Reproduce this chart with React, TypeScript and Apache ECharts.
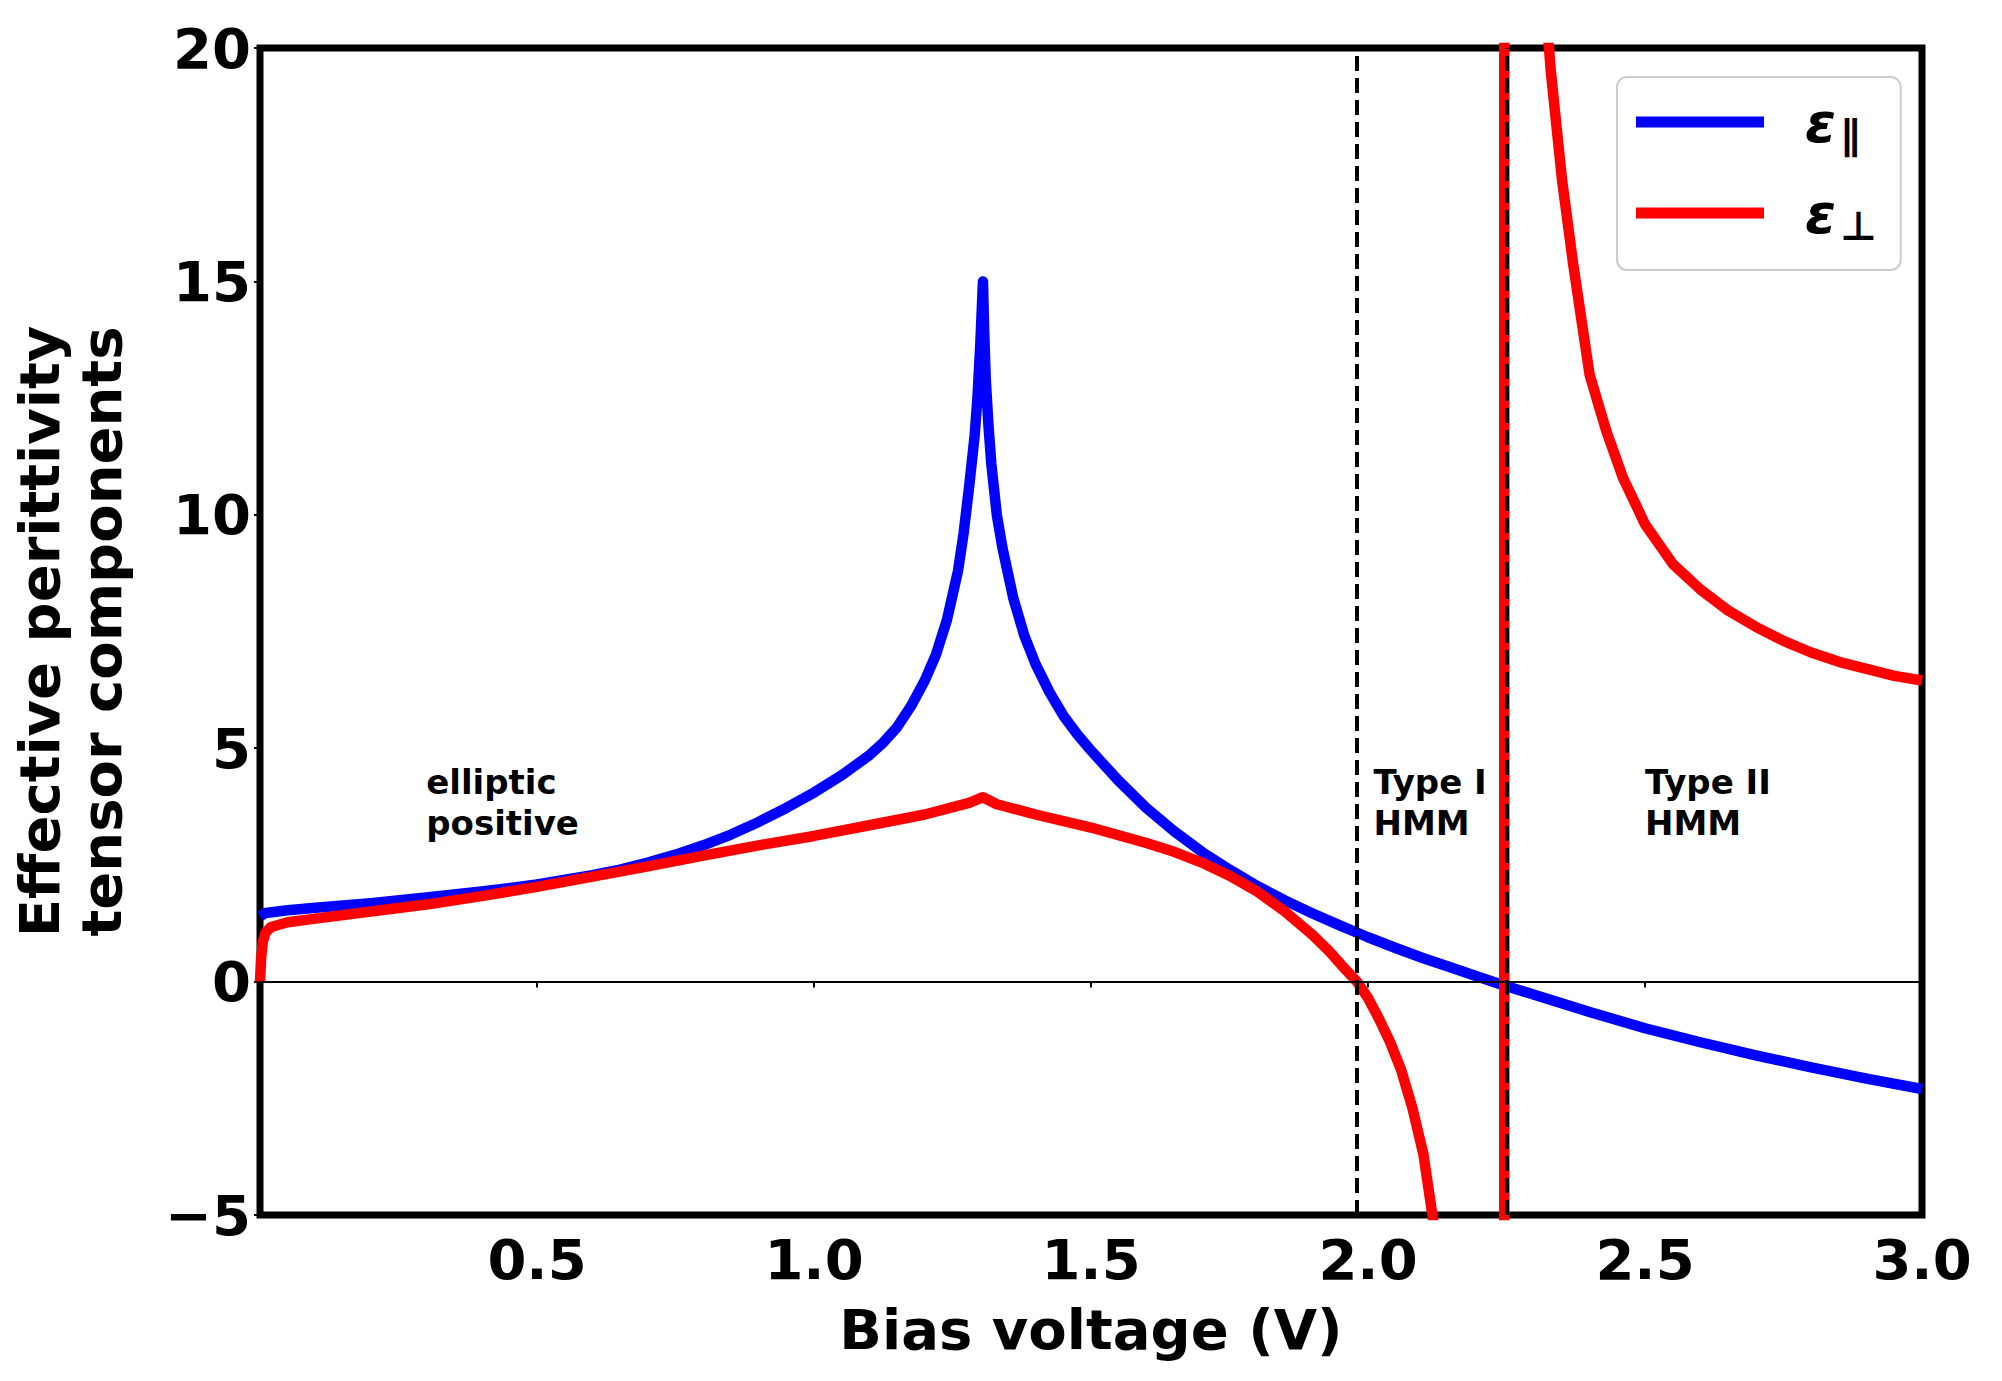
import { useEffect, useRef } from 'react';
import * as echarts from 'echarts';

// ε∥ (blue)
const parallelX = [0, 0.01, 0.05, 0.1, 0.2, 0.3, 0.4, 0.5, 0.6, 0.65, 0.7, 0.75, 0.8, 0.85, 0.9, 0.95, 1.0, 1.05, 1.1, 1.125, 1.15, 1.175, 1.2, 1.22, 1.24, 1.26, 1.27, 1.28, 1.29, 1.295, 1.3, 1.305, 1.307, 1.31, 1.315, 1.32, 1.33, 1.34, 1.36, 1.38, 1.4, 1.425, 1.45, 1.475, 1.5, 1.55, 1.6, 1.65, 1.7, 1.75, 1.8, 1.85, 1.9, 1.95, 2.0, 2.05, 2.1, 2.15, 2.2, 2.25, 2.3, 2.4, 2.5, 2.6, 2.7, 2.8, 2.9, 3.0];
const parallelY = [1.4, 1.47, 1.53, 1.58, 1.68, 1.8, 1.93, 2.08, 2.28, 2.4, 2.55, 2.72, 2.92, 3.15, 3.42, 3.72, 4.05, 4.42, 4.85, 5.12, 5.45, 5.9, 6.45, 7.0, 7.75, 8.8, 9.6, 10.6, 11.7, 12.5, 13.6, 15.0, 14.0, 12.9, 11.9, 11.1, 10.0, 9.3, 8.2, 7.4, 6.8, 6.2, 5.7, 5.3, 4.95, 4.3, 3.72, 3.22, 2.78, 2.4, 2.05, 1.74, 1.46, 1.2, 0.95, 0.72, 0.5, 0.3, 0.1, -0.1, -0.28, -0.65, -1.0, -1.3, -1.58, -1.84, -2.08, -2.3];

// ε⊥ (red), with the pole near 2.246 V
const perpX = [0, 0.002, 0.005, 0.01, 0.02, 0.05, 0.1, 0.2, 0.3, 0.4, 0.5, 0.6, 0.7, 0.8, 0.9, 1.0, 1.1, 1.2, 1.28, 1.305, 1.33, 1.4, 1.5, 1.6, 1.65, 1.7, 1.75, 1.8, 1.85, 1.9, 1.93, 1.96, 1.98, 2.0, 2.02, 2.04, 2.06, 2.08, 2.1, 2.12, 2.15, 2.2, 2.235, 2.246, 2.246, 2.256, 2.27, 2.29, 2.31, 2.33, 2.35, 2.37, 2.4, 2.43, 2.46, 2.5, 2.55, 2.6, 2.65, 2.7, 2.75, 2.8, 2.85, 2.9, 2.95, 3.0];
const perpY = [0, 0.5, 0.85, 1.05, 1.17, 1.27, 1.35, 1.5, 1.65, 1.83, 2.03, 2.25, 2.47, 2.7, 2.92, 3.12, 3.35, 3.58, 3.83, 3.95, 3.8, 3.58, 3.3, 2.97, 2.78, 2.55, 2.27, 1.93, 1.5, 1.0, 0.65, 0.25, 0.0, -0.35, -0.8, -1.3, -1.9, -2.7, -3.7, -5.3, -7.5, -14, -40, -1000, 1000, 60, 40, 28, 22.5, 19.5, 17.2, 15.4, 13.0, 11.8, 10.8, 9.8, 8.95, 8.4, 7.95, 7.6, 7.3, 7.05, 6.85, 6.7, 6.55, 6.45];

// region boundaries (dashed) and region labels
const boundaryX = [1.98, 2.246];
const regionLabels = ['elliptic\npositive', 'Type I\nHMM', 'Type II\nHMM'];
const regionLabelX = [0.3, 2.01, 2.5];
const regionLabelY = [4.72, 4.72, 4.72];

const seriesNames = ['ε∥', 'ε⊥'];
const font = 'DejaVu Sans';

const App = () => {
  const chartRef = useRef<HTMLDivElement>(null);

  useEffect(() => {
    if (!chartRef.current) return;
    const chart = echarts.init(chartRef.current, undefined, { renderer: 'svg' });

    const big = { fontFamily: font, fontWeight: 'bold' as const, fontSize: 56, color: '#000' };

    const option = {
      animation: false,
      backgroundColor: '#fff',
      grid: {
        left: 254, right: 80, top: 48, bottom: 166,
        show: true, borderColor: '#000', borderWidth: 7, backgroundColor: 'transparent'
      },
      legend: {
        data: seriesNames,
        orient: 'vertical',
        left: 1617,
        top: 77,
        padding: [17, 24, 24, 19],
        itemGap: 30,
        itemWidth: 128,
        itemHeight: 11,
        icon: 'rect',
        backgroundColor: '#fff',
        borderColor: '#cccccc',
        borderWidth: 2,
        borderRadius: 10,
        formatter: (name: string) => '{e|' + name.charAt(0) + '}{s|' + name.slice(1) + '}',
        textStyle: {
          rich: {
            e: { fontFamily: font, fontWeight: 'bold', fontStyle: 'italic', fontSize: 56, lineHeight: 60, color: '#000', padding: [0, 0, 0, 36] },
            s: { fontFamily: font, fontWeight: 'bold', fontSize: 40, color: '#000', padding: [26, 0, 0, 4] }
          }
        }
      },
      xAxis: {
        type: 'value',
        min: 0, max: 3, interval: 0.5,
        name: 'Bias voltage (V)',
        nameLocation: 'middle',
        nameGap: 86,
        nameTextStyle: big,
        axisLine: { show: false },
        axisTick: { show: true, length: 6, lineStyle: { color: '#000', width: 2 } },
        splitLine: { show: false },
        axisLabel: {
          ...big,
          margin: 16,
          formatter: (v: number) => (v === 0 ? '' : v.toFixed(1))
        }
      },
      yAxis: {
        type: 'value',
        min: -5, max: 20, interval: 5,
        name: 'Effective perittivity\ntensor components',
        nameLocation: 'middle',
        nameGap: 128,
        nameTextStyle: { ...big, lineHeight: 62 },
        axisLine: { show: false },
        axisTick: { show: true, length: 6, lineStyle: { color: '#000', width: 2 } },
        splitLine: { show: false },
        axisLabel: {
          ...big,
          margin: 9,
          formatter: (v: number) => (v < 0 ? '\u2212' + Math.abs(v) : String(v))
        }
      },
      series: [
        {
          name: seriesNames[0],
          type: 'line',
          data: parallelX.map((x, i) => [x, parallelY[i]]),
          showSymbol: false,
          symbol: 'none',
          clip: true,
          color: '#0000ff',
          lineStyle: { color: '#0000ff', width: 10.5, join: 'round' },
          z: 2
        },
        {
          name: seriesNames[1],
          type: 'line',
          data: perpX.map((x, i) => [x, perpY[i]]),
          showSymbol: false,
          symbol: 'none',
          clip: true,
          color: '#ff0000',
          lineStyle: { color: '#ff0000', width: 10.5, join: 'round' },
          z: 3
        },
        {
          name: 'guides',
          type: 'line',
          data: [],
          z: 10,
          markLine: {
            silent: true,
            symbol: ['none', 'none'],
            label: { show: false },
            data: [
              ...boundaryX.map((x) => ({ xAxis: x, lineStyle: { color: '#000', width: 4, type: [15, 7] } })),
              { yAxis: 0, lineStyle: { color: '#000', width: 2, type: 'solid' } }
            ]
          },
          markPoint: {
            silent: true,
            symbol: 'circle',
            symbolSize: 0,
            label: {
              show: true,
              position: [0, 0],
              align: 'left',
              verticalAlign: 'top',
              formatter: '{b}',
              fontFamily: font,
              fontWeight: 'bold',
              fontSize: 34,
              lineHeight: 41,
              color: '#000'
            },
            data: regionLabels.map((t, i) => ({ name: t, coord: [regionLabelX[i], regionLabelY[i]] }))
          }
        }
      ]
    };

    chart.setOption(option as any);

    const handleResize = () => chart.resize();
    window.addEventListener('resize', handleResize);
    return () => {
      window.removeEventListener('resize', handleResize);
      chart.dispose();
    };
  }, []);

  return (
    <div
      ref={chartRef}
      style={{ position: 'fixed', left: 0, top: 0, width: 2002, height: 1381, background: '#fff' }}
    />
  );
};

export default App;
